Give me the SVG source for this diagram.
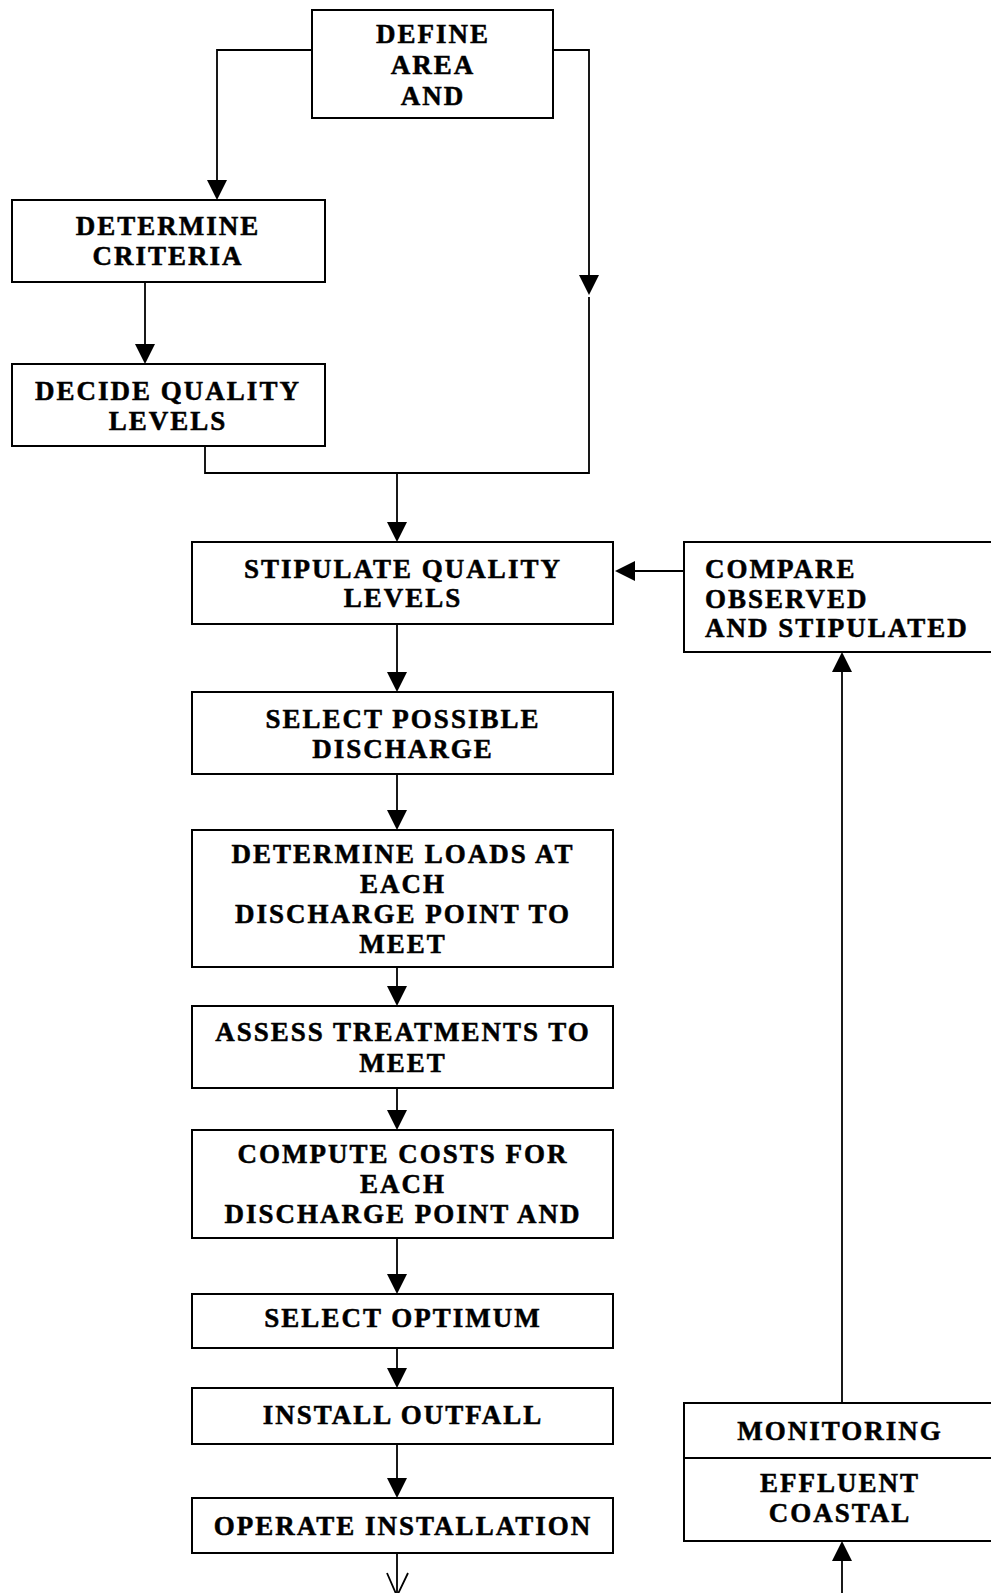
<svg xmlns="http://www.w3.org/2000/svg" width="991" height="1593" viewBox="0 0 991 1593">
<style>
.box{fill:#fff;stroke:#000;stroke-width:2}
.t{font-family:"Liberation Serif","Times New Roman",serif;font-weight:bold;font-size:27px;letter-spacing:2px;fill:#000;stroke:#000;stroke-width:0.5;text-anchor:middle}
.tl{text-anchor:start}
.ln{fill:none;stroke:#000;stroke-width:1.8}
.ah{fill:#000;stroke:none}
</style>
<rect width="991" height="1593" fill="#fff"/>
<g id="connectors">
<polyline class="ln" points="312,50 217,50 217,182"/>
<polygon class="ah" points="207,180 227,180 217,200"/>
<polyline class="ln" points="553,50 589,50 589,277"/>
<polygon class="ah" points="579,275 599,275 589,295"/>
<polyline class="ln" points="589,297 589,473 205,473 205,446"/>
<line class="ln" x1="145" y1="282" x2="145" y2="346"/>
<polygon class="ah" points="135,344 155,344 145,364"/>
<line class="ln" x1="397" y1="473" x2="397" y2="524"/>
<polygon class="ah" points="387,522 407,522 397,542"/>
<line class="ln" x1="397" y1="624" x2="397" y2="674"/>
<polygon class="ah" points="387,672 407,672 397,692"/>
<line class="ln" x1="397" y1="774" x2="397" y2="812"/>
<polygon class="ah" points="387,810 407,810 397,830"/>
<line class="ln" x1="397" y1="967" x2="397" y2="988"/>
<polygon class="ah" points="387,986 407,986 397,1006"/>
<line class="ln" x1="397" y1="1088" x2="397" y2="1112"/>
<polygon class="ah" points="387,1110 407,1110 397,1130"/>
<line class="ln" x1="397" y1="1238" x2="397" y2="1276"/>
<polygon class="ah" points="387,1274 407,1274 397,1294"/>
<line class="ln" x1="397" y1="1348" x2="397" y2="1370"/>
<polygon class="ah" points="387,1368 407,1368 397,1388"/>
<line class="ln" x1="397" y1="1444" x2="397" y2="1480"/>
<polygon class="ah" points="387,1478 407,1478 397,1498"/>
<line class="ln" x1="397" y1="1553" x2="397" y2="1596"/>
<polyline class="ln" points="387,1573 397,1596 408,1573"/>
<line class="ln" x1="684" y1="571" x2="632" y2="571"/>
<polygon class="ah" points="635,561 635,581 615,571"/>
<line class="ln" x1="842" y1="1403" x2="842" y2="670"/>
<polygon class="ah" points="832,672 852,672 842,652"/>
<line class="ln" x1="842" y1="1593" x2="842" y2="1558"/>
<polygon class="ah" points="832,1561 852,1561 842,1541"/>
</g>
<g id="define">
<rect class="box" x="312" y="10" width="241" height="108"/>
<text class="t" x="433" y="43">DEFINE</text>
<text class="t" x="433" y="74">AREA</text>
<text class="t" x="433" y="105">AND</text>
</g>
<g id="determine-criteria">
<rect class="box" x="12" y="200" width="313" height="82"/>
<text class="t" x="168" y="235">DETERMINE</text>
<text class="t" x="168" y="265">CRITERIA</text>
</g>
<g id="decide-quality">
<rect class="box" x="12" y="364" width="313" height="82"/>
<text class="t" x="168" y="400">DECIDE QUALITY</text>
<text class="t" x="168" y="430">LEVELS</text>
</g>
<g id="stipulate">
<rect class="box" x="192" y="542" width="421" height="82"/>
<text class="t" x="403" y="578">STIPULATE QUALITY</text>
<text class="t" x="403" y="607">LEVELS</text>
</g>
<g id="select-discharge">
<rect class="box" x="192" y="692" width="421" height="82"/>
<text class="t" x="403" y="728">SELECT POSSIBLE</text>
<text class="t" x="403" y="758">DISCHARGE</text>
</g>
<g id="determine-loads">
<rect class="box" x="192" y="830" width="421" height="137"/>
<text class="t" x="403" y="863">DETERMINE LOADS AT</text>
<text class="t" x="403" y="893">EACH</text>
<text class="t" x="403" y="923">DISCHARGE POINT TO</text>
<text class="t" x="403" y="953">MEET</text>
</g>
<g id="assess">
<rect class="box" x="192" y="1006" width="421" height="82"/>
<text class="t" x="403" y="1041">ASSESS TREATMENTS TO</text>
<text class="t" x="403" y="1072">MEET</text>
</g>
<g id="compute">
<rect class="box" x="192" y="1130" width="421" height="108"/>
<text class="t" x="403" y="1163">COMPUTE COSTS FOR</text>
<text class="t" x="403" y="1193">EACH</text>
<text class="t" x="403" y="1223">DISCHARGE POINT AND</text>
</g>
<g id="select-optimum">
<rect class="box" x="192" y="1294" width="421" height="54"/>
<text class="t" x="403" y="1327">SELECT OPTIMUM</text>
</g>
<g id="install">
<rect class="box" x="192" y="1388" width="421" height="56"/>
<text class="t" x="403" y="1424">INSTALL OUTFALL</text>
</g>
<g id="operate">
<rect class="box" x="192" y="1498" width="421" height="55"/>
<text class="t" x="403" y="1535">OPERATE INSTALLATION</text>
</g>
<g id="compare">
<rect class="box" x="684" y="542" width="320" height="110"/>
<text class="t tl" x="705" y="578">COMPARE</text>
<text class="t tl" x="705" y="608">OBSERVED</text>
<text class="t tl" x="705" y="637">AND STIPULATED</text>
</g>
<g id="monitoring">
<rect class="box" x="684" y="1403" width="320" height="138"/>
<line class="ln" x1="684" y1="1458" x2="1004" y2="1458" style="stroke-width:2"/>
<text class="t" x="840" y="1440">MONITORING</text>
<text class="t" x="840" y="1492">EFFLUENT</text>
<text class="t" x="840" y="1522">COASTAL</text>
</g>
</svg>
